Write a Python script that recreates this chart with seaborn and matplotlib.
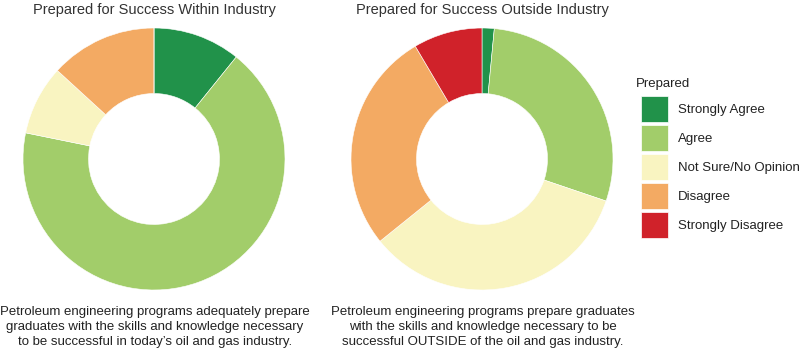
import matplotlib
matplotlib.use("Agg")
import matplotlib.pyplot as plt
import matplotlib.patches as mpatches
import seaborn as sns

sns.set_theme(style="white")
plt.rcParams['font.family'] = ['Liberation Sans', 'DejaVu Sans']

categories = ["Strongly Agree", "Agree", "Not Sure/No Opinion", "Disagree", "Strongly Disagree"]
within_values = [10.8, 67.4, 8.6, 13.2, 0.0]
outside_values = [1.5, 28.7, 34.0, 27.3, 8.5]
colors = ["#21924a", "#a2cd6a", "#f9f4c1", "#f3aa63", "#d0222a"]

titles = ["Prepared for Success Within Industry", "Prepared for Success Outside Industry"]
captions = [
    "Petroleum engineering programs adequately prepare\ngraduates with the skills and knowledge necessary\nto be successful in today\u2019s oil and gas industry.",
    "Petroleum engineering programs prepare graduates\nwith the skills and knowledge necessary to be\nsuccessful OUTSIDE of the oil and gas industry.",
]

W, H = 800, 350
fig = plt.figure(figsize=(8, 3.5), dpi=100)
fig.patch.set_facecolor("white")

centers = [(154, 159), (482, 159)]
R = 131
for (cx, cy), vals in zip(centers, [within_values, outside_values]):
    ax = fig.add_axes([(cx - R) / W, (H - cy - R) / H, 2 * R / W, 2 * R / H])
    ax.pie(vals, colors=colors, startangle=90, counterclock=False, radius=1,
           wedgeprops=dict(width=0.5, edgecolor="white", linewidth=0.4))
    ax.set_xlim(-1, 1)
    ax.set_ylim(-1, 1)
    ax.set_aspect("equal")
    ax.axis("off")

for (cx, cy), title, cap in zip(centers, titles, captions):
    fig.text(cx / W, 1 - 10 / H, title, ha="center", va="center", fontsize=10.5, color="#333333")
    fig.text((cx + 1) / W, 1 - 327 / H, cap, ha="center", va="center", fontsize=9.5,
             color="#222222", linespacing=1.3)

fig.text(636 / W, 1 - 84 / H, "Prepared", ha="left", va="center", fontsize=9.5, color="#222222")
handles = [mpatches.Patch(facecolor=c, edgecolor="white", linewidth=0.5, label=l)
           for c, l in zip(colors, categories)]
leg = fig.legend(handles=handles, loc="upper left",
                 bbox_to_anchor=(641 / W, 1 - 96 / H), frameon=False,
                 fontsize=9.5, handlelength=2.05, handleheight=2.65,
                 labelspacing=0.23, handletextpad=0.75, borderaxespad=0, borderpad=0)
for t in leg.get_texts():
    t.set_color("#222222")

fig.savefig("out.png", dpi=100, facecolor="white")
